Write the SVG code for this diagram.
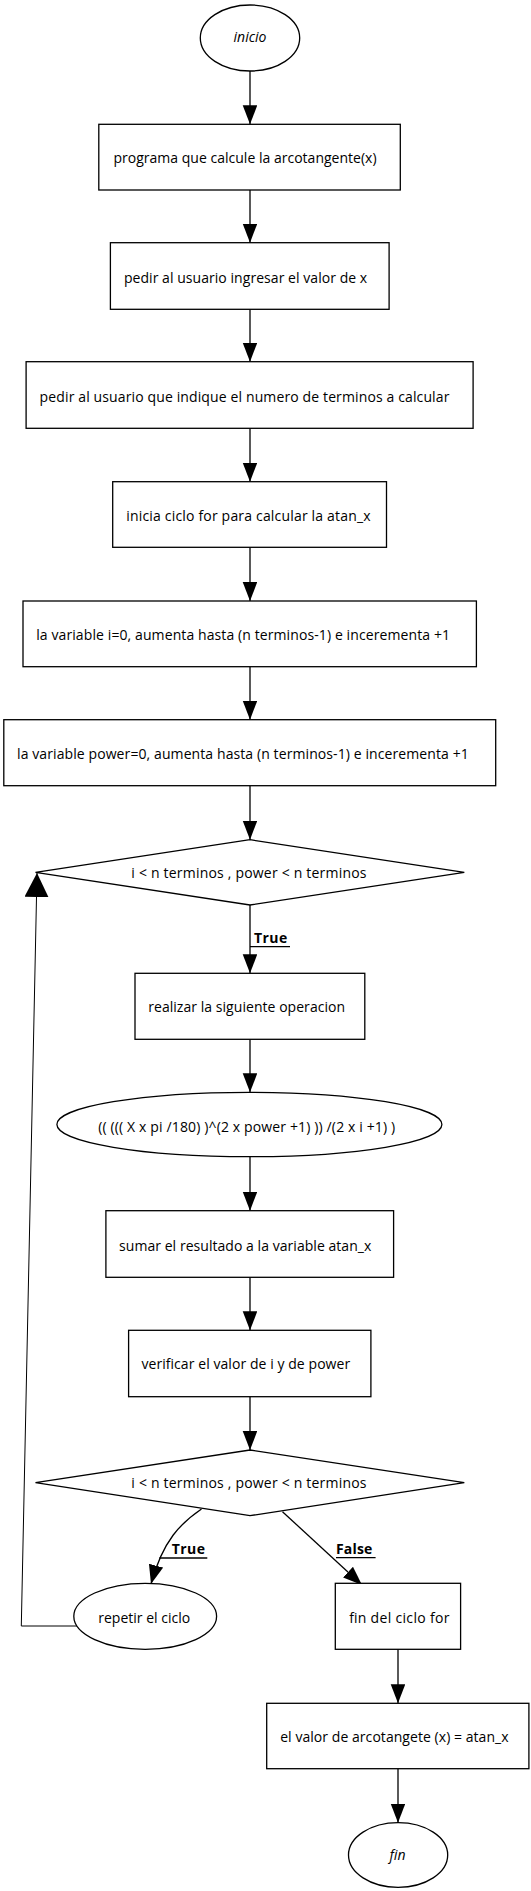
<svg xmlns="http://www.w3.org/2000/svg" width="531" height="1891" viewBox="0 0 531 1891">
<style>
.shape{fill:#fff;stroke:#000;stroke-width:1.3}
.t{font-family:"Open Sans","Noto Sans","DejaVu Sans",sans-serif;font-size:14px;fill:#000}
.i{font-style:italic}
.lbl{font-family:"Open Sans","Noto Sans","DejaVu Sans",sans-serif;font-size:14px;font-weight:bold;fill:#000}
.edge{fill:none;stroke:#000;stroke-width:1.3}
.thin{fill:none;stroke:#000;stroke-width:1}
.ul{stroke:#000;stroke-width:1.3}
</style>
<defs>
<marker id="arr" markerUnits="userSpaceOnUse" markerWidth="20" markerHeight="15" refX="19" refY="7.3" orient="auto"><path d="M0,0 L19,7.3 L0,14.6 z" fill="#000"/></marker>
<marker id="arrBig" markerUnits="userSpaceOnUse" markerWidth="25" markerHeight="25" refX="24" refY="12" orient="auto"><path d="M0,0 L24,12 L0,24 z" fill="#000"/></marker>
</defs>
<g id="connectors">
<line class="edge" x1="250" y1="71" x2="250" y2="124.3" marker-end="url(#arr)"/>
<line class="edge" x1="250" y1="190" x2="250" y2="242.7" marker-end="url(#arr)"/>
<line class="edge" x1="250" y1="309.3" x2="250" y2="361.7" marker-end="url(#arr)"/>
<line class="edge" x1="250" y1="428.3" x2="250" y2="481.7" marker-end="url(#arr)"/>
<line class="edge" x1="250" y1="547.3" x2="250" y2="601" marker-end="url(#arr)"/>
<line class="edge" x1="250" y1="666.7" x2="250" y2="719.7" marker-end="url(#arr)"/>
<line class="edge" x1="250" y1="785.7" x2="250" y2="839.7" marker-end="url(#arr)"/>
<line class="edge" x1="250" y1="905" x2="250" y2="973.3" marker-end="url(#arr)"/>
<line class="edge" x1="250" y1="1039.3" x2="250" y2="1092.3" marker-end="url(#arr)"/>
<line class="edge" x1="250" y1="1156.7" x2="250" y2="1210.7" marker-end="url(#arr)"/>
<line class="edge" x1="250" y1="1277.3" x2="250" y2="1330.3" marker-end="url(#arr)"/>
<line class="edge" x1="250" y1="1396.7" x2="250" y2="1450" marker-end="url(#arr)"/>
<path class="edge" d="M201.5,1509 C181,1523 163,1540 151,1584" marker-end="url(#arr)"/>
<line class="edge" x1="282.5" y1="1511.7" x2="362" y2="1585" marker-end="url(#arr)"/>
<line class="edge" x1="398" y1="1649.3" x2="398" y2="1703.3" marker-end="url(#arr)"/>
<line class="edge" x1="398" y1="1768.7" x2="398" y2="1822.7" marker-end="url(#arr)"/>
<path class="thin" d="M77,1626 L21.3,1626 L37,873" marker-end="url(#arrBig)"/>
<text class="lbl" x="254" y="942.7" textLength="33.3" lengthAdjust="spacing">True</text>
<line class="ul" x1="250" y1="946.7" x2="290" y2="946.7"/>
<text class="lbl" x="171.7" y="1554" textLength="33.3" lengthAdjust="spacing">True</text>
<line class="ul" x1="159.3" y1="1558" x2="207.3" y2="1558"/>
<text class="lbl" x="336" y="1554" textLength="36.3" lengthAdjust="spacing">False</text>
<line class="ul" x1="336" y1="1557.7" x2="375.6" y2="1557.7"/>
</g>
<g id="inicio">
<ellipse class="shape" cx="250" cy="38" rx="49.7" ry="33"/>
<text class="t i" x="250" y="42" text-anchor="middle">inicio</text>
</g>
<g id="programa">
<rect class="shape" x="98.8" y="124.3" width="301.5" height="65.7"/>
<text class="t" x="113.4" y="163" textLength="263.2" lengthAdjust="spacing">programa que calcule la arcotangente(x)</text>
</g>
<g id="pedir_x">
<rect class="shape" x="110.4" y="242.7" width="278.7" height="66.6"/>
<text class="t" x="123.9" y="283" textLength="243.3" lengthAdjust="spacing">pedir al usuario ingresar el valor de x</text>
</g>
<g id="pedir_n">
<rect class="shape" x="26.1" y="361.7" width="447" height="66.6"/>
<text class="t" x="39.6" y="401.7" textLength="409.8" lengthAdjust="spacing">pedir al usuario que indique el numero de terminos a calcular</text>
</g>
<g id="inicia_for">
<rect class="shape" x="112.7" y="481.7" width="273.8" height="65.6"/>
<text class="t" x="126.2" y="520.7" textLength="244.4" lengthAdjust="spacing">inicia ciclo for para calcular la atan_x</text>
</g>
<g id="var_i">
<rect class="shape" x="23" y="601" width="453.4" height="65.7"/>
<text class="t" x="36.2" y="640" textLength="413.8" lengthAdjust="spacing">la variable i=0, aumenta hasta (n terminos-1) e incerementa +1</text>
</g>
<g id="var_power">
<rect class="shape" x="3.8" y="719.7" width="491.9" height="66"/>
<text class="t" x="17" y="759.3" textLength="451.8" lengthAdjust="spacing">la variable power=0, aumenta hasta (n terminos-1) e incerementa +1</text>
</g>
<g id="cond1">
<polygon class="shape" points="250,839.7 464.3,872.3 250,905 35.5,872.3"/>
<text class="t" x="131.3" y="877.7" textLength="235.2" lengthAdjust="spacing">i &lt; n terminos , power &lt; n terminos</text>
</g>
<g id="realizar">
<rect class="shape" x="135" y="973.3" width="229.8" height="66"/>
<text class="t" x="148.2" y="1011.7" textLength="196.9" lengthAdjust="spacing">realizar la siguiente operacion</text>
</g>
<g id="formula">
<ellipse class="shape" cx="249.4" cy="1124.5" rx="192.5" ry="32.2"/>
<text class="t" x="98.2" y="1131.7" textLength="297" lengthAdjust="spacing">(( ((( X x pi /180) )^(2 x power +1) )) /(2 x i +1) )</text>
</g>
<g id="sumar">
<rect class="shape" x="105.9" y="1210.7" width="287.7" height="66.6"/>
<text class="t" x="119.1" y="1250.7" textLength="252.2" lengthAdjust="spacing">sumar el resultado a la variable atan_x</text>
</g>
<g id="verificar">
<rect class="shape" x="128.6" y="1330.3" width="242.3" height="66.4"/>
<text class="t" x="141.4" y="1369.3" textLength="208.8" lengthAdjust="spacing">verificar el valor de i y de power</text>
</g>
<g id="cond2">
<polygon class="shape" points="250,1450 464.3,1482.7 250,1515.7 35.5,1482.7"/>
<text class="t" x="131.3" y="1488.3" textLength="235.2" lengthAdjust="spacing">i &lt; n terminos , power &lt; n terminos</text>
</g>
<g id="repetir">
<ellipse class="shape" cx="145.2" cy="1616.3" rx="71.4" ry="33"/>
<text class="t" x="98.2" y="1622.7" textLength="92" lengthAdjust="spacing">repetir el ciclo</text>
</g>
<g id="fin_ciclo">
<rect class="shape" x="335.3" y="1583.3" width="125.3" height="66"/>
<text class="t" x="349.2" y="1622.7" textLength="100.2" lengthAdjust="spacing">fin del ciclo for</text>
</g>
<g id="valor">
<rect class="shape" x="266.7" y="1703.3" width="262.2" height="65.4"/>
<text class="t" x="280.2" y="1741.7" textLength="228.4" lengthAdjust="spacing">el valor de arcotangete (x) = atan_x</text>
</g>
<g id="fin">
<ellipse class="shape" cx="398.1" cy="1855" rx="49.6" ry="32.3"/>
<text class="t i" x="397.6" y="1860" text-anchor="middle">fin</text>
</g>
</svg>
